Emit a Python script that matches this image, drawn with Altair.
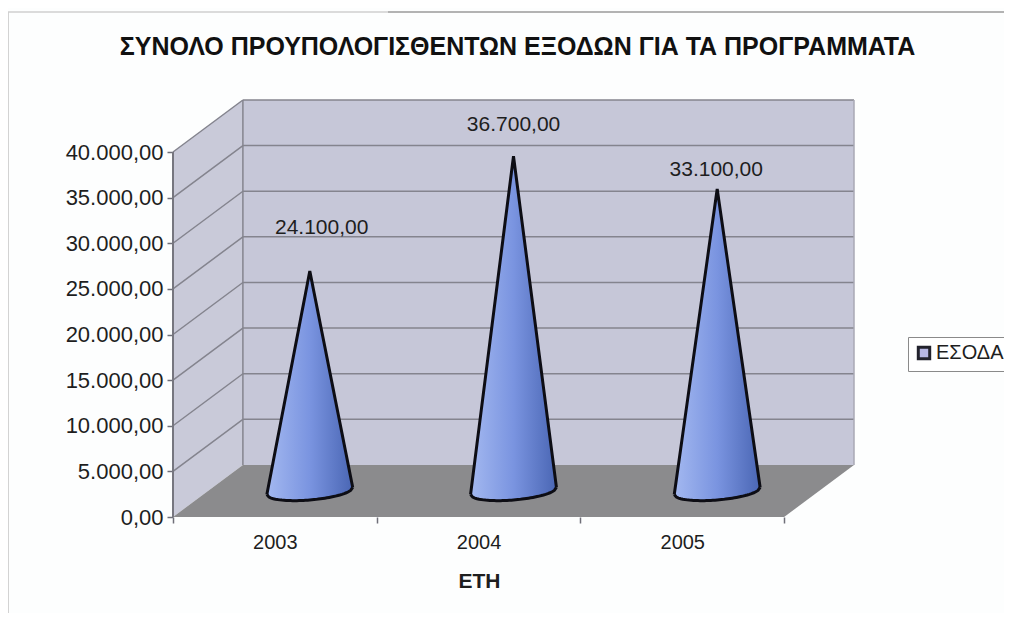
import math
import altair as alt
import pandas as pd

# ---- values ----
years = ["2003", "2004", "2005"]
values = [24100, 36700, 33100]
value_labels = ["24.100,00", "36.700,00", "33.100,00"]
label_x = [0.73, 1.672, 2.667]
label_y = [31670, 42960, 38030]
y_ticks = [0, 5000, 10000, 15000, 20000, 25000, 30000, 35000, 40000]
x_ticks = [0, 0.5, 1, 1.5, 2, 2.5, 3]
series_name = "ΕΣΟΔΑ"
title_text = "ΣΥΝΟΛΟ ΠΡΟΥΠΟΛΟΓΙΣΘΕΝΤΩΝ ΕΞΟΔΩΝ ΓΙΑ ΤΑ ΠΡΟΓΡΑΜΜΑΤΑ"
x_title = "ΕΤΗ"

# ---- oblique projection of the 3-D box, in data units ----
DX = 70 / 204      # depth shift in categories
DY = 5699          # depth shift in value units
XMAX = 3 + DX
YMAX = 40000 + DY
FONT = "Liberation Sans"

xs = alt.Scale(domain=[0, XMAX], nice=False, zero=False)
ys = alt.Scale(domain=[0, YMAX], nice=False, zero=False)

y_axis = alt.Axis(
    values=y_ticks, grid=False, domain=False, tickSize=6, tickColor="#6f6f78", tickWidth=1.5,
    labelFontSize=22, labelFont=FONT, labelColor="#1e1e1e", labelPadding=4, title=None,
    labelExpr="replace(replace(replace(format(datum.value,',.2f'),',','#'),'.',','),'#','.')",
)
x_axis = alt.Axis(
    values=x_ticks, grid=False, domain=False, tickSize=6, tickColor="#6f6f78", tickWidth=1.5,
    tickOpacity={"condition": {"test": "datum.value % 1 != 0", "value": 0}, "value": 1},
    labelFontSize=20, labelFont=FONT, labelColor="#1e1e1e", labelPadding=9, labelOverlap=False,
    labelExpr="datum.value % 1 != 0 ? ['2003','2004','2005'][floor(datum.value)] : ''",
    title=x_title, titleFont=FONT, titleFontSize=21, titleFontWeight="bold", titleColor="#1e1e1e",
    titleX=306, titleY=64, titleAnchor="middle", titleBaseline="middle",
)


def X(f="x"):
    return alt.X(f"{f}:Q", scale=xs, axis=x_axis)


def Y(f="y"):
    return alt.Y(f"{f}:Q", scale=ys, axis=y_axis)


# walls and floor
back = alt.Chart(pd.DataFrame([{"x": DX, "x2": XMAX, "y": DY, "y2": YMAX}])).mark_rect(
    color="#c6c7d8"
).encode(x=X(), x2="x2:Q", y=Y(), y2="y2:Q")

side = alt.Chart(pd.DataFrame([
    {"x": 0, "y": 0, "y2": 40000}, {"x": DX, "y": DY, "y2": YMAX},
])).mark_area(color="#c9cad9").encode(x=X(), y=Y(), y2="y2:Q")

floor = alt.Chart(pd.DataFrame([
    {"x": 0, "y": 0, "y2": 0}, {"x": DX, "y": 0, "y2": DY},
    {"x": 3, "y": 0, "y2": DY}, {"x": XMAX, "y": DY, "y2": DY},
])).mark_area(color="#8b8b8d").encode(x=X(), y=Y(), y2="y2:Q")

# grid lines
grid_rows = []
for v in y_ticks[1:]:
    grid_rows.append({"x": 0, "x2": DX, "y": v, "y2": v + DY})
    grid_rows.append({"x": DX, "x2": XMAX, "y": v + DY, "y2": v + DY})
grid_rows.append({"x": DX, "x2": DX, "y": DY, "y2": YMAX})
grid = alt.Chart(pd.DataFrame(grid_rows)).mark_rule(color="#84848e", strokeWidth=1.5).encode(
    x=X(), x2="x2:Q", y=Y(), y2="y2:Q"
)
edge_rows = [{"x": 0, "x2": 0, "y": 0, "y2": 40000}]
edges = alt.Chart(pd.DataFrame(edge_rows)).mark_rule(color="#76767f", strokeWidth=2).encode(
    x=X(), x2="x2:Q", y=Y(), y2="y2:Q"
)
right_edge = alt.Chart(pd.DataFrame([{"x": XMAX, "x2": XMAX, "y": DY, "y2": YMAX}])).mark_rule(
    color="#a9a9b4", strokeWidth=1.5
).encode(x=X(), x2="x2:Q", y=Y(), y2="y2:Q")

# legend carrier (hidden behind the cones)
carrier = alt.Chart(pd.DataFrame({"x": [i + 0.5 + DX / 2 for i in range(3)], "y": [5000] * 3, "s": [series_name] * 3})).mark_square(
    size=1
).encode(
    x=X(), y=Y(),
    color=alt.Color("s:N", scale=alt.Scale(range=["#b7b7e4"]), legend=alt.Legend(
        title=None, orient="none", legendX=735, legendY=237, symbolType="square", symbolSize=130,
        symbolStrokeColor="#22222c", symbolStrokeWidth=3, labelFont=FONT, labelFontSize=20,
        labelColor="#1e1e1e", fillColor="#ffffff", strokeColor="#8a8a8a", padding=6, labelOffset=2,
        symbolOpacity=1, rowPadding=0,
    )),
)

# cones
HW = 43 / 204
YC = DY / 2
B = 986
S = 384
N = 40
rows = []
for i, (yr, v) in enumerate(zip(years, values)):
    cx = i + 0.5 + DX / 2
    apex = v + YC
    for k in range(N + 1):
        t = -1 + 2 * k / N
        corner = YC + (S if t > 0 else -S)
        rows.append({
            "year": yr,
            "x": cx + HW * t,
            "top": corner + (apex - corner) * (1 - abs(t)),
            "bottom": YC - B * math.sqrt(max(0, 1 - t * t)) + S * t,
        })
cone_df = pd.DataFrame(rows)
gradient = alt.Gradient(
    gradient="linear", x1=0, x2=1, y1=0, y2=0,
    stops=[
        alt.GradientStop(offset=0, color="#a3b8f0"),
        alt.GradientStop(offset=0.5, color="#7a94e0"),
        alt.GradientStop(offset=1, color="#4a66b4"),
    ],
)
cone_fill = alt.Chart(cone_df).mark_area(fill=gradient).encode(
    x=X(), y=Y("top"), y2="bottom:Q", detail="year:N"
)
cone_top = alt.Chart(cone_df).mark_line(color="#0d0d14", strokeWidth=3).encode(
    x=X(), y=Y("top"), detail="year:N"
)
cone_bottom = alt.Chart(cone_df).mark_line(color="#0d0d14", strokeWidth=3).encode(
    x=X(), y=Y("bottom"), detail="year:N"
)

# value labels
labels = alt.Chart(pd.DataFrame({"x": label_x, "y": label_y, "t": value_labels})).mark_text(
    font=FONT, fontSize=21, color="#1e1e1e", baseline="middle"
).encode(x=X(), y=Y(), text="t:N")

# scanned page edge
frame_left = alt.Chart(pd.DataFrame({"a": [0]})).mark_rule(color="#c4c4c4", strokeWidth=1.5).encode(
    x=alt.value(-165), y=alt.value(-88), y2=alt.value(513)
)
frame_top_a = alt.Chart(pd.DataFrame({"a": [0]})).mark_rule(color="#cfcfcf", strokeWidth=1.5).encode(
    x=alt.value(-165), x2=alt.value(215), y=alt.value(-88)
)
frame_top_b = alt.Chart(pd.DataFrame({"a": [0]})).mark_rule(color="#9a9a9a", strokeWidth=1.5).encode(
    x=alt.value(215), x2=alt.value(831), y=alt.value(-88)
)

chart = alt.layer(
    back, side, floor, grid, edges, right_edge, carrier, cone_fill, cone_top, cone_bottom, labels,
    frame_left, frame_top_a, frame_top_b,
).properties(
    width=681,
    height=417,
    title=alt.TitleParams(
        text=title_text, font=FONT, fontSize=25, fontWeight="bold", color="#111111",
        anchor="middle", offset=0, dy=49, dx=4,
    ),
    autosize=alt.AutoSizeParams(type="none"),
    padding={"left": 165, "top": 92, "right": 150, "bottom": 96},
    background="#fdfefe",
).configure_view(stroke=None)

chart.save("out.html", embed_options={"renderer": "svg", "actions": False})
